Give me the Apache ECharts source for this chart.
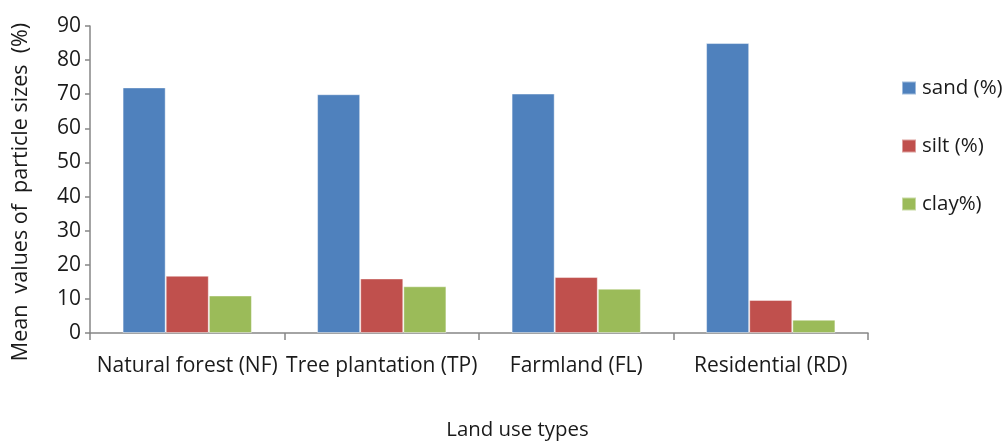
<!DOCTYPE html>
<html>
<head>
<meta charset="utf-8">
<script src="https://cdn.jsdelivr.net/npm/echarts@6/dist/echarts.min.js"></script>
<style>
  html, body { margin: 0; padding: 0; background: #fff; }
  #chart { width: 1004px; height: 441px; }
</style>
</head>
<body>
<div id="chart"></div>
<script>
// Land use categories and mean particle size fractions (%)
const categories = ['Natural forest (NF)', 'Tree plantation (TP)', 'Farmland (FL)', 'Residential (RD)'];
const sand = [72, 70, 70.2, 85];
const silt = [16.8, 16.0, 16.4, 9.7];
const clay = [11.0, 13.7, 13.0, 3.9];
const seriesNames = ['sand (%)', 'silt (%)', 'clay%)'];
const colors = ['#4F81BD', '#C0504D', '#9BBB59'];

const font = '"Open Sans", "Noto Sans", sans-serif';
const textColor = '#1a1a1a';
const axisColor = '#868686';

const chart = echarts.init(document.getElementById('chart'), null, { renderer: 'canvas' });

const values = [sand, silt, clay];
chart.setOption({
  animation: false,
  textStyle: { fontFamily: font },
  grid: { left: 90, right: 136, top: 26, bottom: 108, containLabel: false },
  legend: {
    orient: 'vertical',
    left: 901,
    top: 77.5,
    padding: 0,
    itemGap: 37,
    itemWidth: 14,
    itemHeight: 13,
    icon: 'rect',
    textStyle: { fontSize: 20.5, lineHeight: 20, color: textColor, fontFamily: font, padding: [0, 0, 0, 1] },
    data: seriesNames
  },
  xAxis: {
    type: 'category',
    data: categories,
    axisLine: { lineStyle: { color: axisColor, width: 1.5 } },
    axisTick: { show: true, length: 7, lineStyle: { color: axisColor, width: 1.5 } },
    axisLabel: { fontSize: 21, color: textColor, fontFamily: font, margin: 23, interval: 0 }
  },
  yAxis: {
    type: 'value',
    min: 0,
    max: 90,
    interval: 10,
    axisLine: { show: true, lineStyle: { color: axisColor, width: 1.5 } },
    axisTick: { show: true, length: 5, lineStyle: { color: axisColor, width: 1.5 } },
    axisLabel: { fontSize: 21, color: textColor, fontFamily: font, margin: 9 },
    splitLine: { show: false }
  },
  graphic: [
    {
      // vertical axis title
      type: 'text',
      x: 21,
      y: 192,
      rotation: Math.PI / 2,
      style: {
        text: 'Mean  values of  particle sizes  (%)',
        fontSize: 21.5,
        fill: textColor,
        fontFamily: font,
        align: 'center',
        verticalAlign: 'middle'
      }
    },
    {
      // horizontal axis title
      type: 'text',
      x: 517.5,
      y: 430,
      style: {
        text: 'Land use types',
        fontSize: 20.4,
        fill: textColor,
        fontFamily: font,
        align: 'center',
        verticalAlign: 'middle'
      }
    }
  ],
  series: values.map((v, i) => ({
    name: seriesNames[i],
    type: 'bar',
    data: v,
    barGap: '0%',
    barCategoryGap: '33.5%',
    itemStyle: { color: colors[i], borderColor: 'rgba(255,255,255,0.45)', borderWidth: 1 }
  }))
});
</script>
</body>
</html>
